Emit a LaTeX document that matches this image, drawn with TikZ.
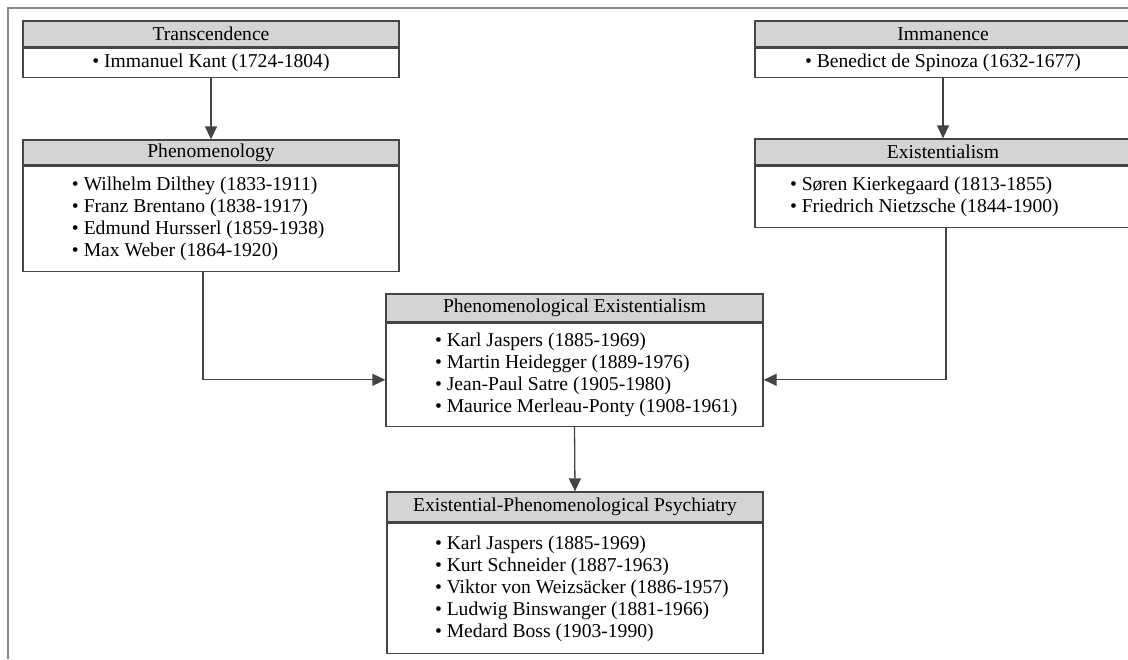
\documentclass[tikz,border=0pt]{standalone}
\usepackage{fontspec}
\setmainfont{Liberation Serif}
\usepackage{tikz}
\usetikzlibrary{arrows.meta,positioning}
\usepackage{xcolor}
\definecolor{boxgray}{HTML}{454545}
\definecolor{hdrfill}{HTML}{D4D4D4}
\definecolor{linegray}{HTML}{444444}
\definecolor{framegray}{HTML}{8A8A8A}

\tikzset{
  hdr/.style={draw=boxgray, fill=hdrfill, line width=0.65pt, minimum width=188pt,
    inner sep=0pt, font=\fontsize{9.8}{11}\selectfont},
  body/.style={draw=boxgray, line width=0.65pt, text width=188pt, inner xsep=0pt,
    inner ysep=0pt, align=flush left, font=\fontsize{9.8}{11}\selectfont},
  lpad/.style={execute at begin node={\leftskip=#1}},
  link/.style={draw=linegray, line width=0.65pt, -{Triangle[length=6.5pt,width=6pt]}},
}

\begin{document}
\begin{tikzpicture}[x=0.5pt,y=-0.5pt]
        \useasboundingbox (0,0) rectangle (1128,659);
        \draw[framegray, line width=0.6pt] (8,659) -- (8,8) -- (1128,8);

        \node[hdr, minimum height=13pt] (trans) at (211,34) {Transcendence};
        \node[body, align=flush center, minimum height=14.5pt, below=0pt of trans] (trans-b) {• Immanuel Kant (1724-1804)};

        \node[hdr, minimum height=13pt] (imm) at (943,34) {Immanence};
        \node[body, align=flush center, minimum height=14.5pt, below=0pt of imm] (imm-b) {• Benedict de Spinoza (1632-1677)};

        \node[hdr, minimum height=12.5pt] (phen) at (211,152.5) {Phenomenology};
        \node[body, lpad=24.5pt, minimum height=52.5pt, below=0pt of phen] (phen-b) {• Wilhelm Dilthey (1833-1911)\\
          • Franz Brentano (1838-1917)\\
          • Edmund Hursserl (1859-1938)\\
          • Max Weber (1864-1920)};

        \node[hdr, minimum height=13pt] (exis) at (943,152) {Existentialism};
        \node[body, lpad=17.5pt, minimum height=30.5pt, below=0pt of exis] (exis-b) {• Søren Kierkegaard (1813-1855)\\
          • Friedrich Nietzsche (1844-1900)};

        \node[hdr, minimum width=188.5pt, minimum height=14pt] (pe) at (574.5,308) {Phenomenological Existentialism};
        \node[body, lpad=24.5pt, text width=188.5pt, minimum height=51.5pt, below=0pt of pe] (pe-b) {• Karl Jaspers (1885-1969)\\
          • Martin Heidegger (1889-1976)\\
          • Jean-Paul Satre (1905-1980)\\
          • Maurice Merleau-Ponty (1908-1961)};

        \node[hdr, minimum height=15pt] (epp) at (575,507) {Existential-Phenomenological Psychiatry};
        \node[body, lpad=24pt, minimum height=65pt, below=0pt of epp] (epp-b) {• Karl Jaspers (1885-1969)\\
          • Kurt Schneider (1887-1963)\\
          • Viktor von Weizsäcker (1886-1957)\\
          • Ludwig Binswanger (1881-1966)\\
          • Medard Boss (1903-1990)};

        \draw[link] (trans-b.south) -- (phen.north);
        \draw[link] (imm-b.south) -- (exis.north);
        \draw[link] ([xshift=-4pt]phen-b.south) |- ([yshift=-2.5pt]pe-b.west);
        \draw[link] ([xshift=1.5pt]exis-b.south) |- ([yshift=-2.5pt]pe-b.east);
        \draw[link] (pe-b.south) -- (epp.north);
      \end{tikzpicture}
\end{document}
